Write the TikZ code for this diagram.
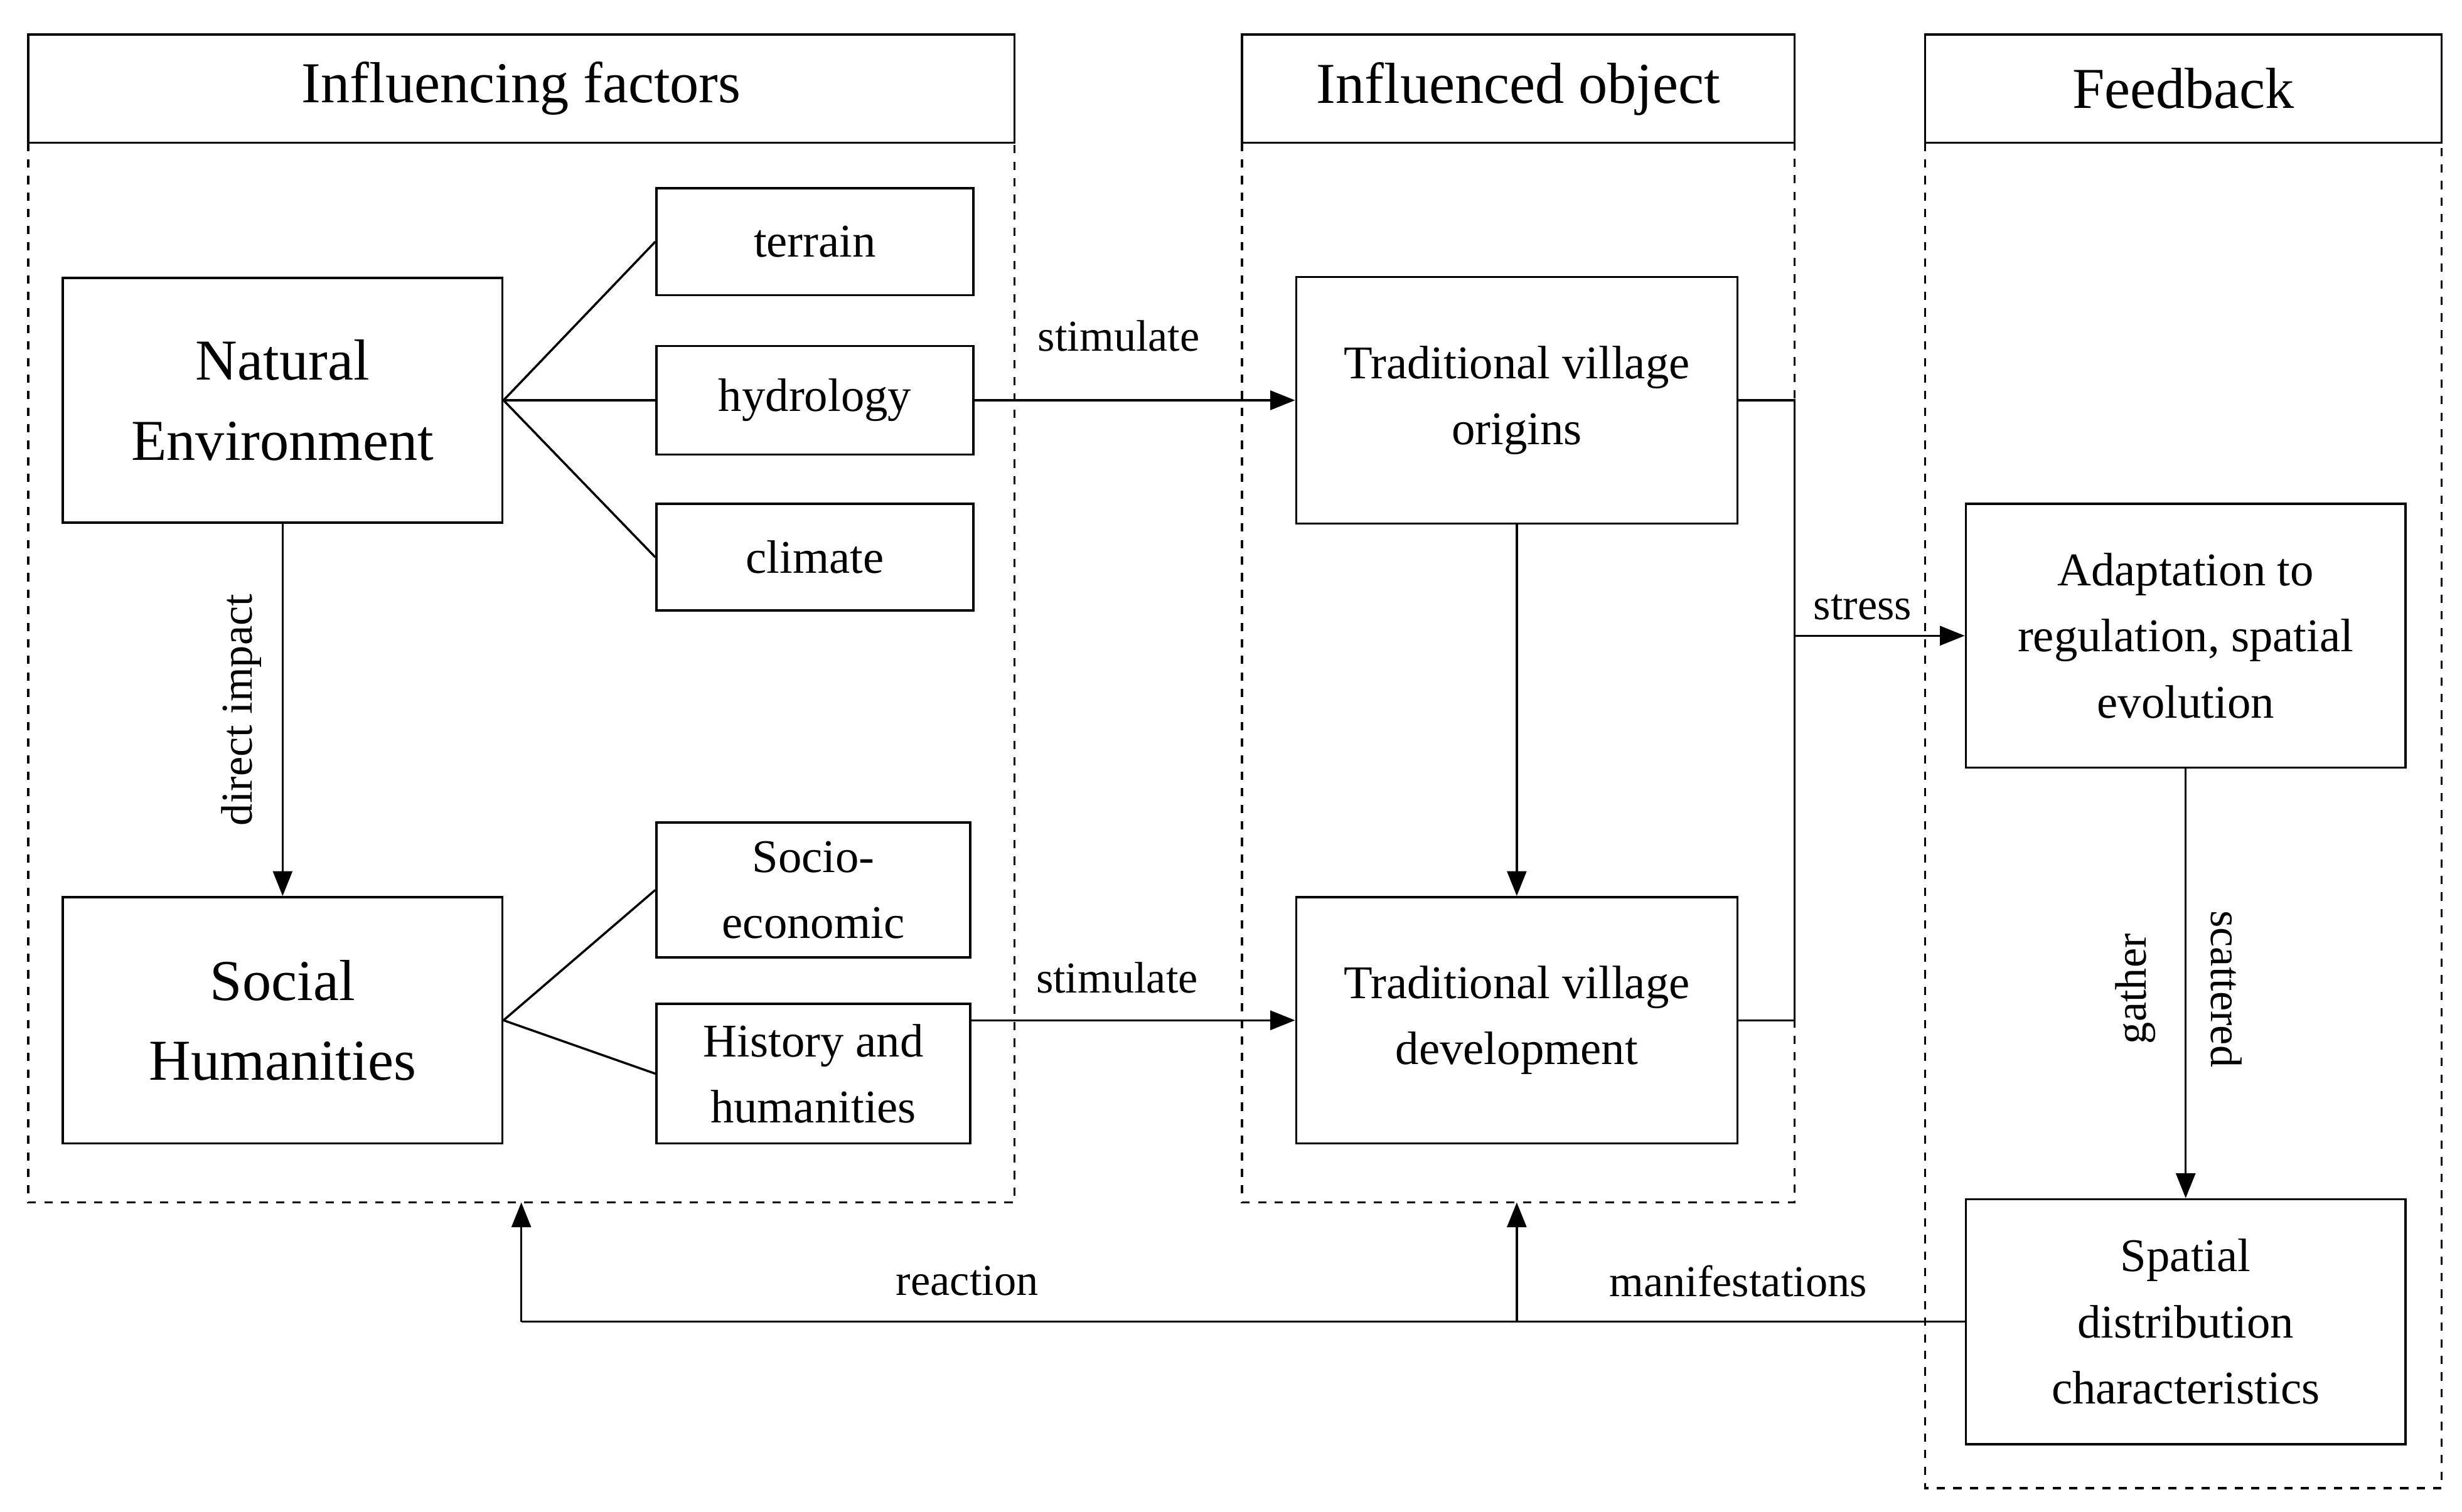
\documentclass[tikz,border=0pt]{standalone}
\usepackage{fontspec}
\setmainfont{Liberation Serif}
\usetikzlibrary{arrows.meta}
\begin{document}
\begin{tikzpicture}[x=0.02cm,y=-0.02cm,
  box/.style={draw,line width=0.8pt,inner sep=0pt},
  cont/.style={draw,dashed,line width=0.8pt},
  ln/.style={line width=0.8pt},
  arr/.style={line width=0.8pt,-{Triangle[length=9pt,width=7pt]}},
  big/.style={font=\fontsize{21}{29}\selectfont,align=center},
  mid/.style={font=\fontsize{17}{24}\selectfont,align=center},
  lab/.style={font=\fontsize{16}{20}\selectfont}]
\useasboundingbox (0,0) rectangle (1568,963);
% containers
\draw[cont] (18,91) rectangle (646,766);
\draw[cont] (791,91) rectangle (1143,766);
\draw[cont] (1226,91) rectangle (1555,948);
\draw[box] (18,22) rectangle (646,91) node[midway,big] (h1) {Influencing factors};
\draw[box] (791,22) rectangle (1143,91) node[midway,big] (h2) {Influenced object};
\draw[box] (1226,22) rectangle (1555,91) node[midway,big] (h3) {Feedback};
% boxes
\node[box,big,minimum width=5.6cm,minimum height=3.12cm] (ne) at (180,255) {Natural\\Environment};
\node[box,mid,minimum width=4.04cm,minimum height=1.36cm] (ter) at (519,154) {terrain};
\node[box,mid,minimum width=4.04cm,minimum height=1.38cm] (hyd) at (519,255) {hydrology};
\node[box,mid,minimum width=4.04cm,minimum height=1.36cm] (cli) at (519,355) {climate};
\node[box,big,minimum width=5.6cm,minimum height=3.14cm] (sh) at (180,650) {Social\\Humanities};
\node[box,mid,minimum width=4.0cm,minimum height=1.72cm] (soc) at (518,567) {Socio-\\economic};
\node[box,mid,minimum width=4.0cm,minimum height=1.78cm] (his) at (518,684) {History and\\humanities};
\node[box,mid,minimum width=5.62cm,minimum height=3.14cm] (tvo) at (966,255) {Traditional village\\origins};
\node[box,mid,minimum width=5.62cm,minimum height=3.14cm] (tvd) at (966,650) {Traditional village\\development};
\node[box,mid,minimum width=5.6cm,minimum height=3.36cm] (ad) at (1392,405) {Adaptation to\\regulation, spatial\\evolution};
\node[box,mid,minimum width=5.6cm,minimum height=3.12cm] (sp) at (1392,842) {Spatial\\distribution\\characteristics};
% connectors
\draw[ln] (ne.east) -- (ter.west);
\draw[ln] (ne.east) -- (hyd.west);
\draw[ln] (ne.east) -- (cli.west);
\draw[ln] (sh.east) -- (soc.west);
\draw[ln] (sh.east) -- (his.west);
\draw[arr] (ne.south) -- node[lab,rotate=90,anchor=south,yshift=4pt,pos=0.5] {direct impact} (sh.north);
\draw[arr] (hyd.east) -- node[lab,above,pos=0.45,yshift=14pt] {stimulate} (tvo.west);
\draw[arr] (his.east |- tvd.west) -- node[lab,above,pos=0.45,yshift=6pt] {stimulate} (tvd.west);
\draw[arr] (tvo.south) -- (tvd.north);
\coordinate (j) at (1143,405);
\draw[ln] (tvo.east) -| (j);
\draw[ln] (tvd.east) -| (j);
\draw[arr] (j) -- node[lab,above,pos=0.4,yshift=2pt] {stress} (ad.west);
\draw[arr] (ad.south) -- (sp.north);
\node[lab,rotate=90] (g) at (1360,630) {gather};
\node[lab,rotate=-90] (s) at (1418,630) {scattered};
\coordinate (c1) at (332,842);
\coordinate (c2) at (966,842);
\coordinate (t1) at (332,766);
\coordinate (t2) at (966,766);
\draw[ln] (sp.west) -- (c1);
\draw[arr] (c1) -- (t1);
\draw[arr] (c2) -- (t2);
\node[lab] (r) at (616,816) {reaction};
\node[lab] (m) at (1107,816) {manifestations};
\end{tikzpicture}
\end{document}
